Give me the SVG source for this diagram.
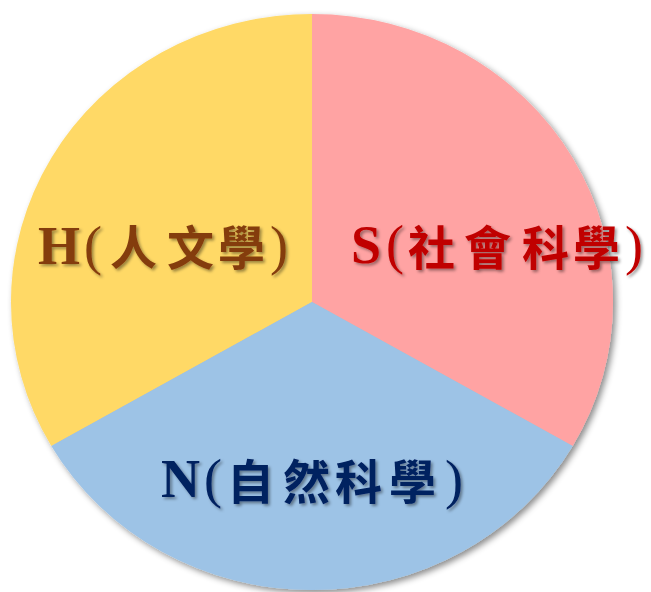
<svg xmlns="http://www.w3.org/2000/svg" width="651" height="592" viewBox="0 0 651 592">
  <defs>
    <filter id="pieShadow" x="-10%" y="-10%" width="125%" height="125%">
      <feDropShadow dx="3" dy="3" stdDeviation="3" flood-color="#000" flood-opacity="0.45"/>
    </filter>
    <filter id="textShadow" x="-10%" y="-30%" width="125%" height="170%">
      <feDropShadow dx="2" dy="2" stdDeviation="1.5" flood-color="#000" flood-opacity="0.4"/>
    </filter>
  </defs>
  <style>
    .lat { font-family: "Liberation Serif", "Times New Roman", serif; font-weight: bold; font-size: 54px; }
    .par { font-family: "Liberation Serif", "Times New Roman", serif; font-weight: normal; font-size: 54px; }
    .cjk { font-family: "Noto Sans CJK TC", "Noto Sans CJK SC", sans-serif; font-weight: bold; font-size: 47px; }
    .lbl { filter: url(#textShadow); }
  </style>
  <g id="pie" filter="url(#pieShadow)">
    <path id="sector-H" d="M312,302 L312,14 A301,288 0 0 0 51.3,446 Z" fill="#FFD966"/>
    <path id="sector-S" d="M312,302 L312,14 A301,288 0 0 1 572.7,446 Z" fill="#FFA3A3"/>
    <path id="sector-N" d="M312,302 L51.3,446 A301,288 0 0 0 572.7,446 Z" fill="#9DC3E6"/>
  </g>
  <g id="node-H" class="lbl" fill="#843C0C">
    <text y="264"><tspan class="lat" x="38">H</tspan><tspan class="par" x="84">(</tspan><tspan class="cjk" x="110 167 218" y="265">人文學</tspan><tspan class="par" x="270" y="264">)</tspan></text>
  </g>
  <g id="node-S" class="lbl" fill="#C00000">
    <text y="263"><tspan class="lat" x="351">S</tspan><tspan class="par" x="386">(</tspan><tspan class="cjk" x="408 464 522 573" y="265">社會科學</tspan><tspan class="par" x="625" y="264">)</tspan></text>
  </g>
  <g id="node-N" class="lbl" fill="#002060">
    <text y="497"><tspan class="lat" x="161">N</tspan><tspan class="par" x="204">(</tspan><tspan class="cjk" x="227 283 335 389" y="499">自然科學</tspan><tspan class="par" x="445" y="498">)</tspan></text>
  </g>
</svg>
